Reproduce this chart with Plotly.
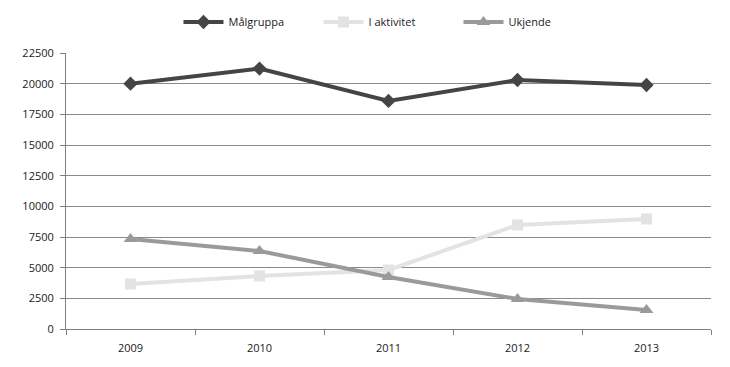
import plotly.graph_objects as go

years = ["2009", "2010", "2011", "2012", "2013"]
malgruppa = [20000, 21230, 18590, 20300, 19890]
i_aktivitet = [3670, 4320, 4810, 8480, 8970]
ukjende = [7340, 6360, 4240, 2450, 1550]
y_ticks = [0, 2500, 5000, 7500, 10000, 12500, 15000, 17500, 20000, 22500]

fig = go.Figure()
fig.add_trace(go.Scatter(x=years, y=malgruppa, name="Målgruppa", mode="lines+markers",
                         line=dict(color="#454545", width=4),
                         marker=dict(symbol="diamond", size=11, color="#454545")))
fig.add_trace(go.Scatter(x=years, y=i_aktivitet, name="I aktivitet", mode="lines+markers",
                         line=dict(color="#e3e3e3", width=4),
                         marker=dict(symbol="square", size=11, color="#e3e3e3")))
fig.add_trace(go.Scatter(x=years, y=ukjende, name="Ukjende", mode="lines+markers",
                         line=dict(color="#9a9a9a", width=4),
                         marker=dict(symbol="triangle-up", size=12, color="#9a9a9a")))

fig.update_layout(
    width=722, height=351,
    margin=dict(l=58, r=19, t=45, b=30, autoexpand=False),
    paper_bgcolor="white", plot_bgcolor="white",
    font=dict(family="Open Sans", size=11, color="#1a1a1a"),
    showlegend=True,
    legend=dict(orientation="h", x=0.5, xanchor="center", y=1 - 14 / 351, yanchor="middle",
                yref="container", font=dict(size=11), itemwidth=40,
                entrywidth=85, entrywidthmode="pixels"),
    xaxis=dict(type="category", showgrid=False, showline=True, linecolor="#808080",
               linewidth=1, ticks="outside", tickson="boundaries", ticklen=5,
               tickcolor="#808080", range=[-0.5, 4.5], zeroline=False,
               ticklabelstandoff=9, automargin=False),
    yaxis=dict(range=[0, 22500], tickvals=y_ticks, ticktext=[str(v) for v in y_ticks],
               showgrid=True, gridcolor="#8a8a8a",
               gridwidth=1, showline=True, linecolor="#808080", linewidth=1,
               ticks="outside", ticklen=5, tickcolor="#808080", zeroline=False,
               ticklabelstandoff=4, automargin=False),
)

fig.write_html("out.html")
